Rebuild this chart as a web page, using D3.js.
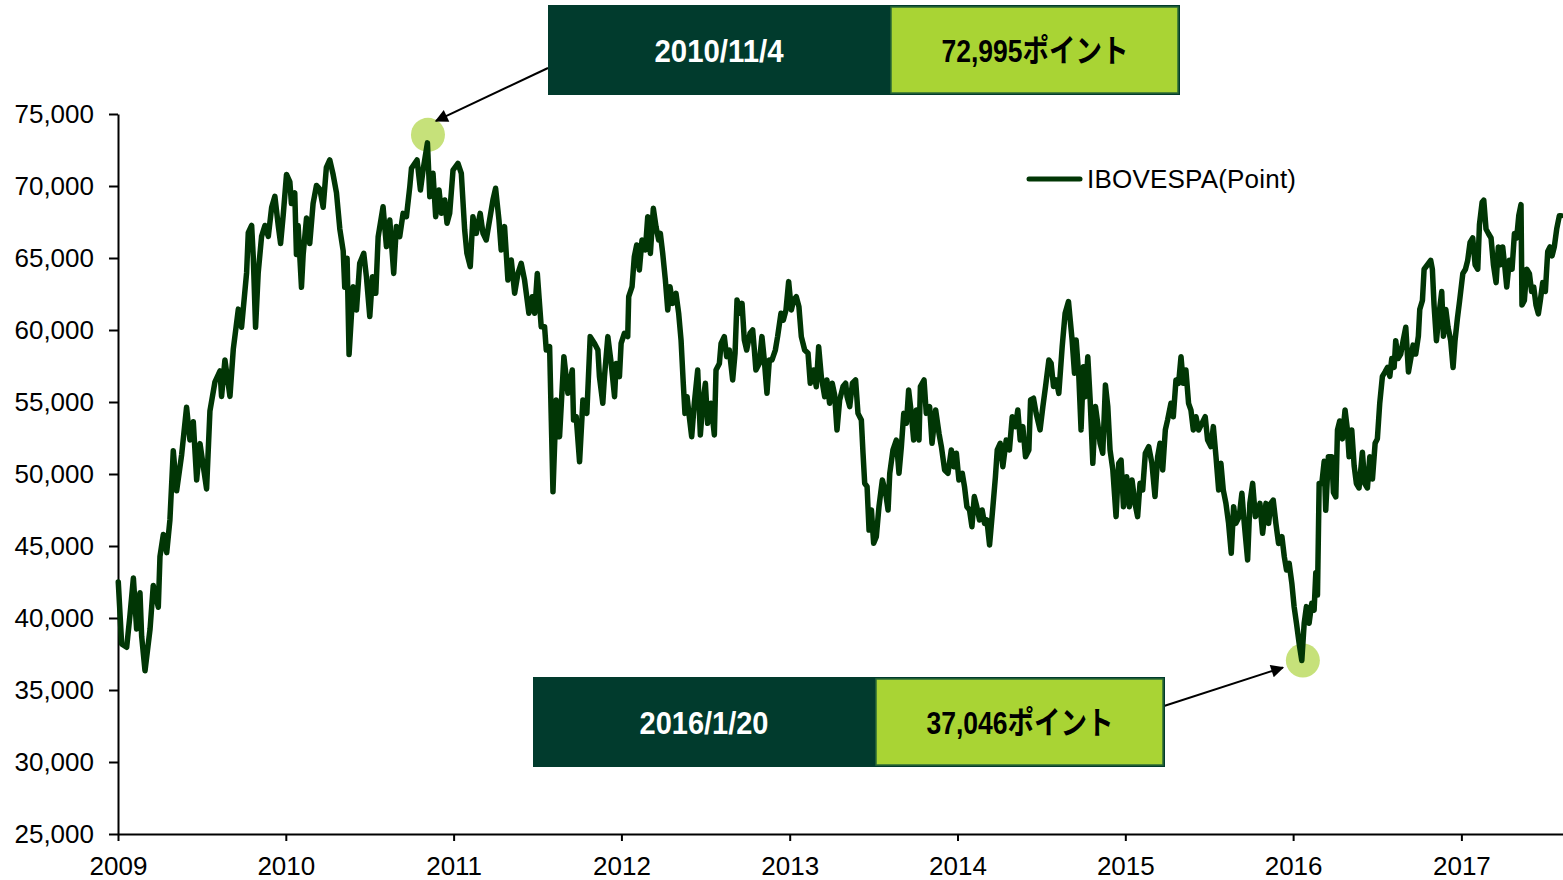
<!DOCTYPE html>
<html>
<head>
<meta charset="utf-8">
<script src="https://cdn.jsdelivr.net/npm/d3@7"></script>
<style>
  html, body { margin: 0; padding: 0; background: #fff; }
  svg { display: block; font-family: 'Liberation Sans', Arial, 'Noto Sans CJK JP', sans-serif; }
</style>
</head>
<body>
<script>
// IBOVESPA closes: [month within the year, points]
const y2009 = [[0.02,42500],[0.26,38200],[0.62,37970],[0.86,40240],[1.10,42770],[1.33,39230],[1.57,41760],[1.69,38730],[1.93,36330],[2.29,39230],[2.52,42260],[2.88,40750],[3.0,44280],[3.24,45800],[3.48,44540],[3.71,46810],[3.95,51610],[4.19,48830],[4.55,51350],[4.90,54640],[5.14,52360],[5.38,53630],[5.62,49590],[5.86,52110],[6.33,48960],[6.57,54380],[6.93,56400],[7.29,57160],[7.40,55390],[7.64,57920],[8.0,55390],[8.24,58680],[8.6,61450],[8.83,60190],[9.19,63980],[9.31,66760],[9.55,67260],[9.67,64990],[9.83,60190],[10.02,63980],[10.26,66500],[10.5,67260],[10.74,66500],[10.98,68520],[11.21,69280],[11.45,67260],[11.62,66000],[11.81,68020]];
const y2010 = [[0.05,70800],[0.29,70290],[0.4,68780],[0.64,69530],[0.76,65240],[0.88,67260],[1.12,62970],[1.24,65240],[1.48,67770],[1.71,66000],[1.95,68780],[2.19,70040],[2.43,69790],[2.67,68520],[2.9,71300],[3.14,71810],[3.38,70800],[3.62,69530],[3.86,67010],[4.1,65490],[4.21,62970],[4.38,64990],[4.52,58300],[4.81,63000],[5.05,61390],[5.28,64630],[5.57,65320],[5.76,63700],[6.0,60930],[6.19,63700],[6.43,62550],[6.6,66480],[6.95,68560],[7.19,65790],[7.43,67640],[7.71,63930],[7.9,67180],[8.14,66480],[8.38,68100],[8.62,67870],[8.86,69950],[8.98,71230],[9.21,71570],[9.38,71810],[9.62,69720],[9.81,71110],[10.12,72995],[10.29,69260],[10.52,70880],[10.71,67870],[10.95,69720],[11.12,68100],[11.36,69030],[11.52,67410],[11.71,68100],[11.95,71110]];
const y2011 = [[0.31,71570],[0.55,70880],[0.79,66940],[0.95,65320],[1.19,64400],[1.38,67870],[1.62,66710],[1.9,68100],[2.1,66710],[2.33,66250],[2.57,67640],[2.81,69030],[3.0,69840],[3.24,67640],[3.4,65560],[3.64,67180],[3.88,63470],[4.12,64860],[4.36,62550],[4.6,63930],[4.83,64630],[5.07,63470],[5.38,61160],[5.62,62310],[5.79,61160],[5.98,63930],[6.26,60230],[6.5,60230],[6.62,58610],[6.86,58840],[6.98,53750],[7.1,48770],[7.33,55140],[7.57,52590],[7.88,58150],[8.17,55600],[8.48,57220],[8.57,53750],[8.76,53980],[9.0,50850],[9.24,55140],[9.52,54210],[9.76,59540],[10.07,59070],[10.31,58610],[10.42,56760],[10.66,54910],[10.78,56760],[11.02,59540],[11.26,57680],[11.5,55370],[11.62,57680],[11.85,56760],[11.97,59070]];
const y2012 = [[0.21,59770],[0.45,59540],[0.52,62310],[0.76,63010],[0.92,65090],[1.09,65900],[1.28,64170],[1.47,66250],[1.71,65560],[1.88,67870],[2.07,65320],[2.28,68450],[2.47,67180],[2.66,66250],[2.78,66710],[2.95,65320],[3.14,63470],[3.31,61390],[3.47,63010],[3.66,61850],[3.9,62550],[4.09,61160],[4.26,59310],[4.42,56300],[4.54,54210],[4.69,55370],[4.85,53980],[5.02,52590],[5.21,54910],[5.45,57220],[5.64,52710],[5.81,54910],[6.0,56300],[6.16,53520],[6.4,54910],[6.64,52710],[6.76,57220],[7.0,57680],[7.12,59070],[7.35,59540],[7.52,58150],[7.71,58610],[7.95,56530],[8.12,58380],[8.26,62080],[8.5,61160],[8.62,61850],[8.78,59310],[8.95,58610],[9.19,59770],[9.38,60000],[9.5,58610],[9.61,57220],[9.85,57680],[10.04,59540],[10.21,57920],[10.4,55600],[10.57,57920],[10.76,57920],[11.0,58610],[11.16,59540],[11.4,61160],[11.57,60690],[11.76,61390],[11.95,63360]];
const y2013 = [[0.12,61390],[0.28,62080],[0.47,62310],[0.66,61620],[0.83,59540],[1.07,58610],[1.31,58380],[1.47,56300],[1.71,57220],[1.9,56060],[2.07,58840],[2.26,56760],[2.5,55370],[2.66,56530],[2.85,54910],[3.04,56300],[3.21,55500],[3.38,53050],[3.57,55140],[3.81,56070],[4.0,56300],[4.1,55370],[4.29,54680],[4.48,56300],[4.71,56530],[4.88,54210],[5.12,53750],[5.24,51440],[5.36,49350],[5.53,49120],[5.67,46110],[5.84,47500],[6.0,45190],[6.19,45650],[6.38,47730],[6.62,49580],[6.86,48660],[7.03,47500],[7.15,50050],[7.38,51670],[7.62,52360],[7.81,50050],[7.98,51900],[8.15,54210],[8.34,53520],[8.5,55830],[8.69,54210],[8.86,52360],[9.05,54450],[9.24,52360],[9.34,56070],[9.6,56530],[9.76,54210],[10.0,54680],[10.17,52130],[10.43,54450],[10.67,52820],[10.84,51900],[11.07,50280],[11.31,50050],[11.55,51670],[11.72,50510],[11.91,51440]];
const y2014 = [[0.1,49580],[0.34,50050],[0.5,49120],[0.67,47730],[0.86,47500],[1.03,46340],[1.2,48430],[1.38,47730],[1.57,46810],[1.76,47500],[1.93,46570],[2.1,46810],[2.29,45070],[2.53,47730],[2.71,49810],[2.84,51670],[3.05,52130],[3.24,50510],[3.48,52360],[3.71,51670],[3.91,53980],[4.14,53290],[4.31,54450],[4.48,52360],[4.67,53290],[4.86,51200],[5.1,51670],[5.22,55140],[5.43,55260],[5.62,54210],[5.9,53060],[6.1,54680],[6.29,56070],[6.53,57920],[6.69,57690],[6.86,56070],[7.05,56530],[7.24,55600],[7.48,58840],[7.69,61160],[7.93,61970],[8.19,59300],[8.36,56990],[8.48,59300],[8.67,56760],[8.83,53060],[9.0,57450],[9.14,55370],[9.31,58150],[9.48,55140],[9.67,50740],[9.86,54680],[10.02,53520],[10.19,52130],[10.38,51440],[10.57,56180],[10.74,54680],[10.9,51670],[11.1,50280],[11.33,47040],[11.52,50740],[11.69,50970],[11.86,47730]];
const y2015 = [[0.1,49810],[0.29,47730],[0.48,49580],[0.69,47960],[0.88,47040],[1.05,49350],[1.24,48890],[1.43,51440],[1.67,51900],[1.9,50740],[2.12,48430],[2.31,51200],[2.48,52130],[2.67,50280],[2.86,53060],[3.02,53750],[3.26,54910],[3.43,53980],[3.62,56530],[3.81,56300],[3.98,58150],[4.14,56300],[4.33,57220],[4.52,54910],[4.69,54440],[4.86,53060],[5.05,53980],[5.24,53060],[5.48,53520],[5.71,53980],[5.88,52360],[6.12,51900],[6.29,53290],[6.48,51200],[6.67,48890],[6.83,50740],[7.0,48890],[7.19,47960],[7.38,46570],[7.57,44490],[7.74,47730],[7.9,46570],[8.14,47040],[8.33,48660],[8.5,46570],[8.74,44030],[8.9,47960],[9.1,49350],[9.29,47040],[9.45,47270],[9.62,47960],[9.81,45880],[10.05,47960],[10.24,46570],[10.4,47960],[10.57,48190],[10.76,46570],[10.95,45180],[11.19,45650],[11.36,44260],[11.52,43330],[11.71,43800],[11.9,42410]];
const y2016 = [[0.07,40790],[0.24,39630],[0.43,38240],[0.62,37046],[0.79,39630],[0.95,40790],[1.14,39630],[1.33,41020],[1.5,40550],[1.62,43140],[1.74,41590],[1.86,49340],[2.05,49340],[2.22,50890],[2.33,47480],[2.52,51200],[2.76,51200],[2.88,48720],[3.05,48410],[3.17,53060],[3.33,53680],[3.52,52440],[3.71,54450],[3.88,53060],[4.0,51200],[4.19,53060],[4.36,50580],[4.52,49340],[4.71,49030],[4.95,51510],[5.12,49340],[5.31,49030],[5.48,51200],[5.67,49650],[5.86,52130],[6.02,52440],[6.19,54920],[6.38,56780],[6.57,57090],[6.74,57400],[6.91,56780],[7.05,58020],[7.22,57400],[7.33,59260],[7.5,58020],[7.69,58330],[7.86,59260],[8.05,60190],[8.24,57090],[8.41,58020],[8.57,58950],[8.76,58330],[8.95,59570],[9.05,61430],[9.24,62050],[9.36,64220],[9.6,64530],[9.83,64840],[9.95,64220],[10.07,61740],[10.24,59260],[10.43,61120],[10.62,62670],[10.74,59570],[10.91,61430],[11.07,60190],[11.26,59260],[11.43,57400],[11.57,59260],[11.74,60810],[11.9,62050]];
const y2017 = [[0.1,63910],[0.29,64220],[0.45,64840],[0.62,66080],[0.81,66390],[0.98,64530],[1.17,64220],[1.29,67320],[1.48,68870],[1.6,69020],[1.76,67010],[1.93,66700],[2.12,66390],[2.29,64530],[2.48,63290],[2.64,65770],[2.79,64530],[2.95,65770],[3.12,64220],[3.24,62980],[3.43,64840],[3.62,64220],[3.79,66700],[3.95,66390],[4.1,67940],[4.26,68710],[4.33,61740],[4.5,62050],[4.67,64220],[4.86,63910],[5.02,62670],[5.17,62980],[5.33,61740],[5.5,61120],[5.64,62050],[5.81,63290],[6.0,62670],[6.17,65460],[6.33,65770],[6.48,65150],[6.64,65770],[6.81,67010],[7.0,67940],[7.12,67940]];

const years = [2009, 2010, 2011, 2012, 2013, 2014, 2015, 2016, 2017];
const yearSeries = [y2009, y2010, y2011, y2012, y2013, y2014, y2015, y2016, y2017];
const yTicks = [25000, 30000, 35000, 40000, 45000, 50000, 55000, 60000, 65000, 70000, 75000];
const seriesName = 'IBOVESPA(Point)';
const peak = { date: '2010/11/4', value: 72995, label: '72,995ポイント' };
const trough = { date: '2016/1/20', value: 37046, label: '37,046ポイント' };

let dim = { width: 1563, height: 880 };
let svg = d3.select('body').append('svg')
  .attr('width', dim.width)
  .attr('height', dim.height);

let dataset = [];
years.forEach((yr, i) => {
  yearSeries[i].forEach(([m, v]) => {
    dataset.push({ date: new Date(Date.UTC(yr, 0, 1) + m * 30.4375 * 864e5), value: v });
  });
});

let parseDate = d3.utcParse('%Y/%m/%d');
let scaleX = d3.scaleUtc([new Date(Date.UTC(2009, 0, 1)), new Date(Date.UTC(2017, 7, 10))], [118, 1563]);
let scaleY = d3.scaleLinear([25000, 75000], [834, 114]);

// axes
let axisX = d3.axisBottom(scaleX)
  .ticks(d3.utcYear.every(1))
  .tickFormat(d3.utcFormat('%Y'))
  .tickSize(7)
  .tickPadding(16)
  .tickSizeOuter(0);
let axisY = d3.axisLeft(scaleY)
  .tickValues(yTicks)
  .tickFormat(d3.format(','))
  .tickSize(9)
  .tickPadding(15)
  .tickSizeOuter(0);

svg.append('g').attr('transform', 'translate(0, 834)').call(axisX);
svg.append('g').attr('transform', 'translate(118, 0)').call(axisY);
svg.selectAll('.domain, .tick line').attr('stroke', '#000').attr('stroke-width', 2);
svg.selectAll('.tick text')
  .attr('fill', '#000')
  .style('font-size', '26px')
  .style('font-family', "'Liberation Sans', Arial, sans-serif");

// highlight circles (under the line)
let marks = [
  { d: parseDate(peak.date), v: peak.value, dy: -8 },
  { d: parseDate(trough.date), v: trough.value, dy: 0 }
];
svg.append('g').selectAll('circle').data(marks).enter().append('circle')
  .attr('cx', d => scaleX(d.d) + 1)
  .attr('cy', d => scaleY(d.v) + d.dy)
  .attr('r', 17)
  .attr('fill', '#c6e17a');

// the index line
let line = d3.line().x(d => scaleX(d.date)).y(d => scaleY(d.value));
svg.append('path')
  .datum(dataset)
  .attr('d', line)
  .attr('fill', 'none')
  .attr('stroke', '#013605')
  .attr('stroke-width', 5.5)
  .attr('stroke-linejoin', 'round')
  .attr('stroke-linecap', 'round');

// legend
svg.append('line')
  .attr('x1', 1029).attr('x2', 1080).attr('y1', 179).attr('y2', 179)
  .attr('stroke', '#013605').attr('stroke-width', 5).attr('stroke-linecap', 'round');
svg.append('text')
  .attr('x', 1087).attr('y', 188)
  .style('font-size', '26px')
  .attr('fill', '#000')
  .attr('textLength', 209)
  .text(seriesName);

// arrow head
svg.append('defs').append('marker')
  .attr('id', 'head')
  .attr('viewBox', '0 0 10 10')
  .attr('refX', 9).attr('refY', 5)
  .attr('markerUnits', 'userSpaceOnUse')
  .attr('markerWidth', 17).attr('markerHeight', 13)
  .attr('orient', 'auto')
  .append('path').attr('d', 'M0,0L10,5L0,10z').attr('fill', '#000');

function callout(box, info, tipDx, tipDy, fromX, fromY) {
  let g = svg.append('g');
  let px = scaleX(parseDate(info.date));
  let py = scaleY(info.value);
  g.append('line')
    .attr('x1', fromX).attr('y1', fromY)
    .attr('x2', px + tipDx).attr('y2', py + tipDy)
    .attr('stroke', '#000').attr('stroke-width', 2)
    .attr('marker-end', 'url(#head)');
  g.append('rect')
    .attr('x', box.x).attr('y', box.y).attr('width', box.w).attr('height', box.h)
    .attr('fill', '#013b2d');
  g.append('rect')
    .attr('x', box.x + box.split + 1).attr('y', box.y + 2)
    .attr('width', box.w - box.split - 3).attr('height', box.h - 4)
    .attr('fill', '#a9d434')
    .attr('stroke', '#2b6a36').attr('stroke-width', 1.5);
  g.append('text')
    .attr('x', box.x + box.split / 2).attr('y', box.y + box.h / 2)
    .attr('dy', '0.36em')
    .attr('text-anchor', 'middle')
    .attr('textLength', 129).attr('lengthAdjust', 'spacingAndGlyphs')
    .attr('fill', '#fff')
    .style('font-size', '32px').style('font-weight', 'bold')
    .text(info.date);
  g.append('text')
    .attr('x', box.x + box.split + (box.w - box.split) / 2).attr('y', box.y + box.h / 2)
    .attr('dy', '0.36em')
    .attr('text-anchor', 'middle')
    .attr('textLength', 187).attr('lengthAdjust', 'spacingAndGlyphs')
    .attr('fill', '#000')
    .style('font-size', '32px').style('font-weight', 'bold')
    .text(info.label);
}

callout({ x: 548, y: 5, w: 632, h: 90, split: 342 }, peak, 9, -22, 548, 68);
callout({ x: 533, y: 677, w: 632, h: 90, split: 342 }, trough, -19, 7, 1164, 706);
</script>
</body>
</html>
